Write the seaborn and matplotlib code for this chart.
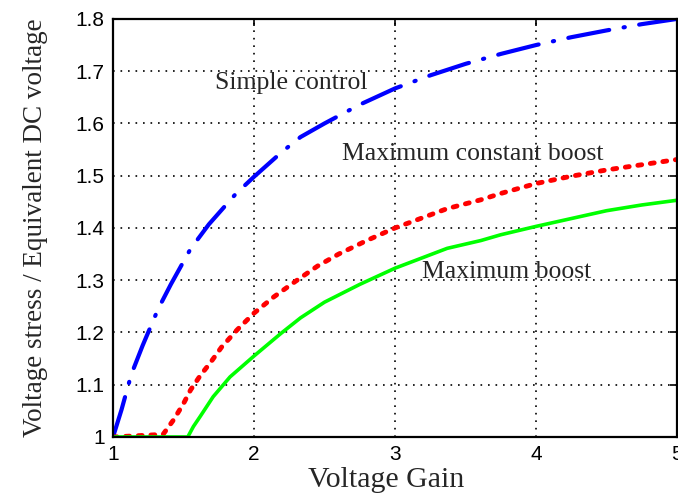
import matplotlib
matplotlib.use("Agg")
import matplotlib.pyplot as plt
import seaborn as sns

# values
simple_x = [1.0, 1.06, 1.13, 1.21, 1.32, 1.41, 1.55, 1.68, 1.87, 2.0, 2.2, 2.33,
            2.5, 2.75, 3.0, 3.25, 3.5, 3.75, 4.0, 4.25, 4.5, 4.75, 5.0]
simple_y = [1.0, 1.052, 1.12, 1.175, 1.245, 1.292, 1.36, 1.407, 1.465, 1.498,
            1.546, 1.574, 1.60, 1.636, 1.667, 1.692, 1.714, 1.733, 1.75, 1.765,
            1.778, 1.79, 1.8]

mcb_x = [1.0, 1.355, 1.43, 1.5, 1.55, 1.62, 1.69, 1.77, 1.88, 2.0, 2.14, 2.3,
         2.45, 2.6, 2.8, 3.0, 3.37, 3.61, 3.75, 4.0, 4.25, 4.5, 4.75, 5.0]
mcb_y = [1.0, 1.005, 1.033, 1.064, 1.09, 1.118, 1.142, 1.172, 1.205, 1.237,
         1.268, 1.299, 1.327, 1.35, 1.376, 1.40, 1.437, 1.454, 1.466, 1.485,
         1.499, 1.511, 1.521, 1.531]

mb_x = [1.0, 1.53, 1.57, 1.62, 1.71, 1.83, 2.0, 2.19, 2.33, 2.5, 2.75, 3.0,
        3.37, 3.61, 3.75, 4.0, 4.25, 4.5, 4.75, 5.0]
mb_y = [1.0, 1.0, 1.02, 1.04, 1.077, 1.115, 1.155, 1.198, 1.228, 1.258, 1.292,
        1.323, 1.361, 1.376, 1.387, 1.403, 1.418, 1.433, 1.444, 1.453]

labels = ["Simple control", "Maximum constant boost", "Maximum boost"]
xticks = [1, 2, 3, 4, 5]
yticks = [1, 1.1, 1.2, 1.3, 1.4, 1.5, 1.6, 1.7, 1.8]

sns.set_style("white")
plt.rcParams['font.family'] = ['Liberation Sans', 'DejaVu Sans']

fig = plt.figure(figsize=(6.78, 4.93), dpi=100)
ax = fig.add_axes([0.1667, 0.1136, 0.8318, 0.848])

sns.lineplot(x=simple_x, y=simple_y, ax=ax, color=(0, 0, 1), lw=3,
             linestyle=(0, (10, 3.5, 0.3, 3.5)), dash_capstyle='round')
sns.lineplot(x=mcb_x, y=mcb_y, ax=ax, color=(1, 0, 0), lw=3.5,
             linestyle=(0, (0.8, 1.8)), dash_capstyle='round')
sns.lineplot(x=mb_x, y=mb_y, ax=ax, color=(0, 1, 0), lw=2.6)

ax.set_xlim(1, 5)
ax.set_ylim(1, 1.8)
ax.set_xticks(xticks)
ax.set_xticklabels([str(t) for t in xticks])
ax.set_yticks(yticks)
ax.set_yticklabels(["1"] + [f"{t:.1f}" for t in yticks[1:]])
ax.tick_params(direction='in', length=5, width=1.2, labelsize=15,
               top=True, right=True, colors='black', pad=6)
ax.grid(True, color='black', linestyle=(0, (1, 3.5)), linewidth=1.2)
for s in ax.spines.values():
    s.set_linewidth(1.6)
    s.set_color('black')

serif = ['Liberation Serif', 'DejaVu Serif']
ax.set_xlabel("Voltage Gain", fontsize=21.5, family=serif)
ax.xaxis.set_label_coords(0.484, -0.102)
ax.xaxis.label.set_va('center')
ax.set_ylabel("Voltage stress / Equivalent DC voltage", fontsize=19.5,
              family=serif, labelpad=20)

ax.text(1.723, 1.677, labels[0], fontsize=18.5, family=serif, va='center')
ax.text(2.625, 1.542, labels[1], fontsize=18.5, family=serif, va='center')
ax.text(3.195, 1.316, labels[2], fontsize=18.5, family=serif, va='center')

fig.savefig("out.png", dpi=100)
